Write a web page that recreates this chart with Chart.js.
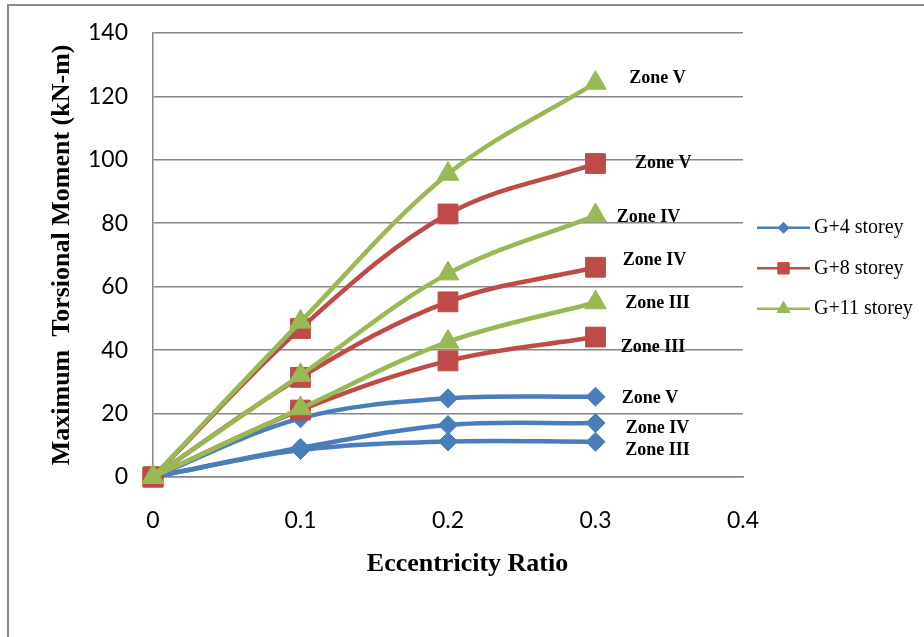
<!DOCTYPE html>
<html>
<head>
<meta charset="utf-8">
<title>Maximum Torsional Moment vs Eccentricity Ratio</title>
<script src="https://cdn.jsdelivr.net/npm/chart.js@4.4.1/dist/chart.umd.min.js"></script>
<style>
    html, body { margin: 0; padding: 0; background: #fff; overflow: hidden; }
    #frame {
        position: absolute; left: 7px; top: 4px;
        width: 2000px; height: 2000px;
        border: 2px solid #8a8a8a;
    }
    /* the layout keeps ~38px above the plot, so lift the canvas a little */
    #chart { position: absolute; left: 0; top: -6px; }
</style>
</head>
<body>
<div id="frame"></div>
<canvas id="chart" width="924" height="643"></canvas>
<script>
// Data
const eccentricity = [0, 0.1, 0.2, 0.3];

const g4ZoneIII = [0, 8.5, 11.2, 11.1];
const g4ZoneIV  = [0, 9.2, 16.4, 17.0];
const g4ZoneV   = [0, 18.5, 24.8, 25.3];

const g8ZoneIII = [0, 21.1, 36.6, 44.1];
const g8ZoneIV  = [0, 31.4, 55.2, 66.1];
const g8ZoneV   = [0, 46.8, 82.9, 98.8];

const g11ZoneIII = [0, 21.6, 42.6, 55.0];
const g11ZoneIV  = [0, 32.1, 64.1, 82.4];
const g11ZoneV   = [0, 48.9, 95.5, 124.2];

const buildings = ['G+4 storey', 'G+8 storey', 'G+11 storey'];
const xTickLabels = ['0', '0.1', '0.2', '0.3', '0.4'];

// zone label anchors (data units)
const zoneLabels = [
    { text: 'Zone V',   x: 0.342, y: 125.5 },
    { text: 'Zone V',   x: 0.346, y: 98.8 },
    { text: 'Zone IV',  x: 0.336, y: 81.8 },
    { text: 'Zone IV',  x: 0.340, y: 68.2 },
    { text: 'Zone III', x: 0.342, y: 54.7 },
    { text: 'Zone III', x: 0.339, y: 40.9 },
    { text: 'Zone V',   x: 0.337, y: 24.8 },
    { text: 'Zone IV',  x: 0.342, y: 15.4 },
    { text: 'Zone III', x: 0.342, y: 8.5 }
];

const styles = {
    'G+4 storey':  { color: '#4a7ebb', point: 'rectRot', radius: 9.5, legendRadius: 5.5 },
    'G+8 storey':  { color: '#be4b48', point: 'rect', radius: 14, legendRadius: 8 },
    'G+11 storey': { color: '#98b954', point: 'triangle', radius: 12.5, legendRadius: 7.5 }
};

function series(building, values) {
    const s = styles[building];
    return {
        label: building,
        data: eccentricity.map((x, i) => ({ x: x, y: values[i] })),
        borderColor: s.color,
        backgroundColor: s.color,
        borderWidth: 4.5,
        tension: 0.35,
        clip: false,
        pointStyle: s.point,
        pointRadius: s.radius,
        pointHoverRadius: s.radius,
        pointBackgroundColor: s.color,
        pointBorderColor: s.color,
        pointBorderWidth: 1
    };
}

// first dataset is drawn on top, so green goes first
const datasets = [
    series('G+11 storey', g11ZoneV),
    series('G+11 storey', g11ZoneIV),
    series('G+11 storey', g11ZoneIII),
    series('G+8 storey', g8ZoneV),
    series('G+8 storey', g8ZoneIV),
    series('G+8 storey', g8ZoneIII),
    series('G+4 storey', g4ZoneV),
    series('G+4 storey', g4ZoneIV),
    series('G+4 storey', g4ZoneIII)
];

const zoneLabelPlugin = {
    id: 'zoneLabels',
    afterDatasetsDraw(chart) {
        const ctx = chart.ctx;
        const xs = chart.scales.x, ys = chart.scales.y;
        ctx.save();
        ctx.font = 'bold 18px "Liberation Serif", "Times New Roman", serif';
        ctx.fillStyle = '#000';
        ctx.textAlign = 'center';
        ctx.textBaseline = 'middle';
        zoneLabels.forEach(l => {
            ctx.fillText(l.text, xs.getPixelForValue(l.x), ys.getPixelForValue(l.y));
        });
        ctx.restore();
    }
};

const legendPlugin = {
    id: 'lineLegend',
    afterDraw(chart) {
        const ctx = chart.ctx;
        const area = chart.chartArea;
        const x0 = area.right + 14;
        const x1 = x0 + 53;
        ctx.save();
        buildings.forEach((b, i) => {
            const s = styles[b];
            const y = area.top + 195 + i * 40.5;
            ctx.strokeStyle = s.color;
            ctx.fillStyle = s.color;
            ctx.lineWidth = 2.5;
            ctx.beginPath();
            ctx.moveTo(x0, y);
            ctx.lineTo(x1, y);
            ctx.stroke();
            ctx.lineWidth = 1;
            Chart.helpers.drawPoint(ctx, {
                pointStyle: s.point, radius: s.legendRadius, rotation: 0, borderWidth: 1
            }, (x0 + x1) / 2, y);
            ctx.fillStyle = '#000';
            ctx.font = '20px "Liberation Serif", "Times New Roman", serif';
            ctx.textAlign = 'left';
            ctx.textBaseline = 'middle';
            ctx.fillText(b, x1 + 4, y);
        });
        ctx.restore();
    }
};

new Chart(document.getElementById('chart'), {
    type: 'line',
    data: { datasets: datasets },
    plugins: [zoneLabelPlugin, legendPlugin],
    options: {
        responsive: false,
        animation: false,
        layout: { padding: { left: 0, top: 26, right: 181, bottom: 0 } },
        plugins: {
            legend: { display: false },
            tooltip: { enabled: false }
        },
        scales: {
            x: {
                type: 'linear',
                min: 0,
                max: 0.4,
                afterFit(scale) { scale.height = 160; },
                ticks: {
                    stepSize: 0.1,
                    padding: 30,
                    color: '#000',
                    font: { family: 'Lato', size: 23 },
                    callback: (v, i) => xTickLabels[i]
                },
                grid: { display: false, drawTicks: false },
                border: { display: true, color: '#868686', width: 1.5 },
                title: {
                    display: true,
                    // leading spaces push the title right, as in the source figure
                    text: '      Eccentricity Ratio',
                    color: '#000',
                    font: { family: '"Liberation Serif", "Times New Roman", serif', size: 26, weight: 'bold' },
                    padding: { top: 0, bottom: 57 }
                }
            },
            y: {
                min: 0,
                max: 140,
                afterFit(scale) { scale.width = 153; },
                ticks: {
                    stepSize: 20,
                    padding: 25,
                    color: '#000',
                    font: { family: 'Lato', size: 23 }
                },
                grid: { color: '#868686', lineWidth: 1.5, drawTicks: false },
                border: { display: true, color: '#868686', width: 1.5 },
                title: {
                    display: true,
                    text: 'Maximum  Torsional Moment (kN-m)',
                    color: '#000',
                    font: { family: '"Liberation Serif", "Times New Roman", serif', size: 26, weight: 'bold' },
                    padding: { top: 47, bottom: 0 }
                }
            }
        }
    }
});
</script>
</body>
</html>
